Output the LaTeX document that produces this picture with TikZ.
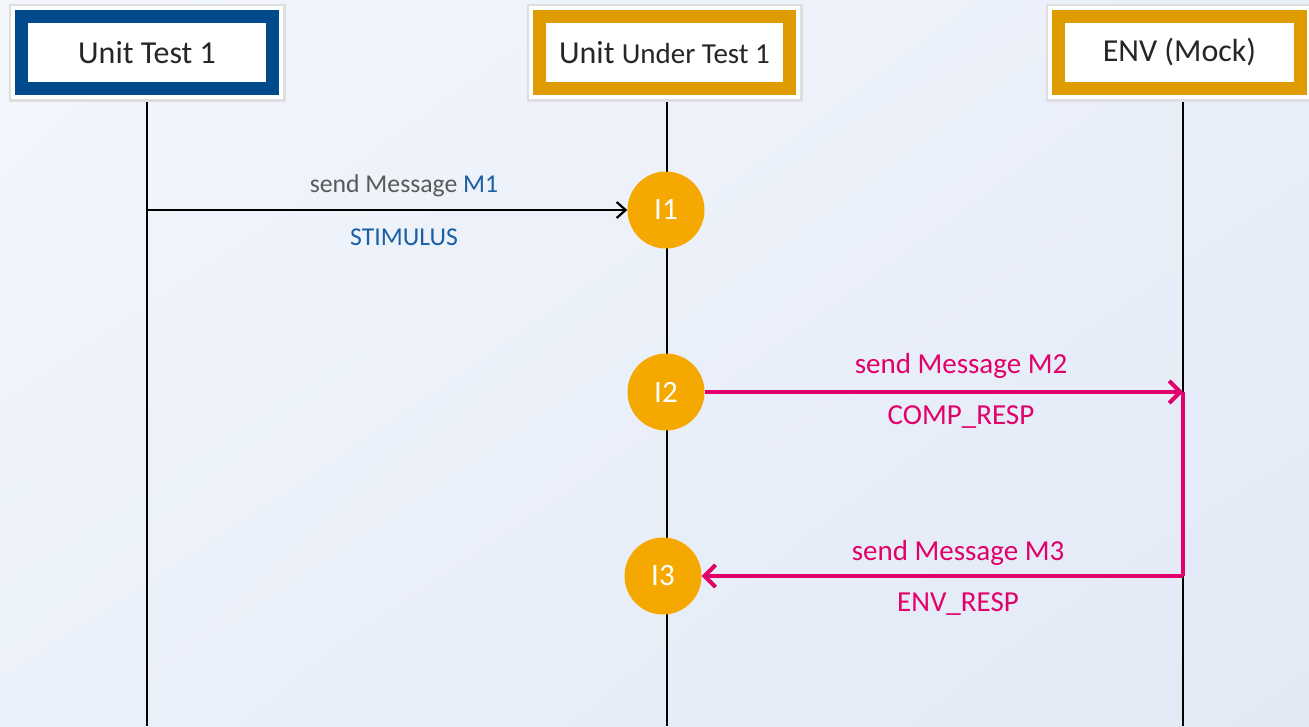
\documentclass[tikz,border=0pt]{standalone}
\usepackage{fontspec}
\setmainfont{Carlito}
\usetikzlibrary{arrows.meta,shadings}

\definecolor{bgUL}{HTML}{F3F6FC}
\definecolor{bgUR}{HTML}{E9EFF9}
\definecolor{bgLL}{HTML}{EBF1FA}
\definecolor{bgLR}{HTML}{E2E9F5}
\definecolor{frameblue}{HTML}{014A8C}
\definecolor{frameorange}{HTML}{DF9C00}
\definecolor{dotorange}{HTML}{F4A800}
\definecolor{msgpink}{HTML}{E2006A}
\definecolor{msgblue}{HTML}{1A5FA6}
\definecolor{msggray}{HTML}{595959}

\tikzset{
  header/.style={rectangle, fill=white, line width=13pt, inner sep=0pt,
    minimum height=72pt, text=black!85,
    preaction={draw=black!13, line width=26pt},
    preaction={draw=white, line width=21pt},
    font=\fontsize{32}{36}\selectfont},
  lifeline/.style={line width=2.5pt, black},
  interaction/.style={circle, fill=dotorange, minimum size=77pt, inner sep=0pt,
    text=white, font=\fontsize{31}{34}\selectfont},
  stimarrow/.style={line width=2.2pt, black,
    -{Straight Barb[length=9pt, width=16pt, line width=2.2pt]}},
  resparrow/.style={line width=4pt, msgpink, line join=miter,
    -{Straight Barb[length=11pt, width=22pt, line width=4pt]}},
  pinkline/.style={line width=4pt, msgpink},
  stimlabel/.style={font=\fontsize{25.7}{28}\selectfont, inner sep=0pt},
  pinklabel/.style={font=\fontsize{29}{32}\selectfont, text=msgpink, inner sep=0pt},
}

\begin{document}
\begin{tikzpicture}[x=1pt, y=-1pt]
  % background
  \useasboundingbox (0,0) rectangle (1309,726);
  \shade[upper left=bgUL, upper right=bgUR, lower left=bgLL, lower right=bgLR]
    (0,0) rectangle (1309,726);

  % lifelines
  \coordinate (utTop) at (147,98);
  \coordinate (utBot) at (147,726);
  \coordinate (uutTop) at (667,98);
  \coordinate (uutBot) at (667,726);
  \coordinate (envTop) at (1183,98);
  \coordinate (envBot) at (1183,726);
  \draw[lifeline] (utTop) -- (utBot);
  \draw[lifeline] (uutTop) -- (uutBot);
  \draw[lifeline] (envTop) -- (envBot);

  % participant headers
  \node[header, draw=frameblue, minimum width=251pt] (ut) at (147,52.5) {Unit Test 1};
  \node[header, draw=frameorange, minimum width=250pt] (uut) at (664.5,52.5)
    {Unit \fontsize{29}{32}\selectfont Under Test 1};
  \node[header, draw=frameorange, minimum width=242pt] (env) at (1179.5,52.5) {ENV (Mock)};

  % interaction points
  \node[interaction] (i1) at (666,210) {I1};
  \node[interaction] (i2) at (666,392) {I2};
  \node[interaction] (i3) at (663,576) {I3};

  % stimulus message
  \coordinate (m1start) at (147,210);
  \draw[stimarrow] (m1start) -- (i1.west);
  \node[stimlabel, text=msggray] (m1top) at (404,186)
    {send Message \textcolor{msgblue}{M1}};
  \node[stimlabel, text=msgblue] (m1bot) at (404,237) {STIMULUS};

  % component response to the environment mock
  \coordinate (m2end) at (1183,392);
  \coordinate (m3start) at (1183,576);
  \draw[resparrow] (i2.east) -- (m2end);
  \draw[pinkline] (m2end) -- (m3start);
  \draw[resparrow] (m3start) -- (i3.east);
  \node[pinklabel] (m2top) at (961,366) {send Message M2};
  \node[pinklabel] (m2bot) at (961,417) {COMP\_RESP};
  \node[pinklabel] (m3top) at (958,553) {send Message M3};
  \node[pinklabel] (m3bot) at (958,604) {ENV\_RESP};
\end{tikzpicture}
\end{document}
